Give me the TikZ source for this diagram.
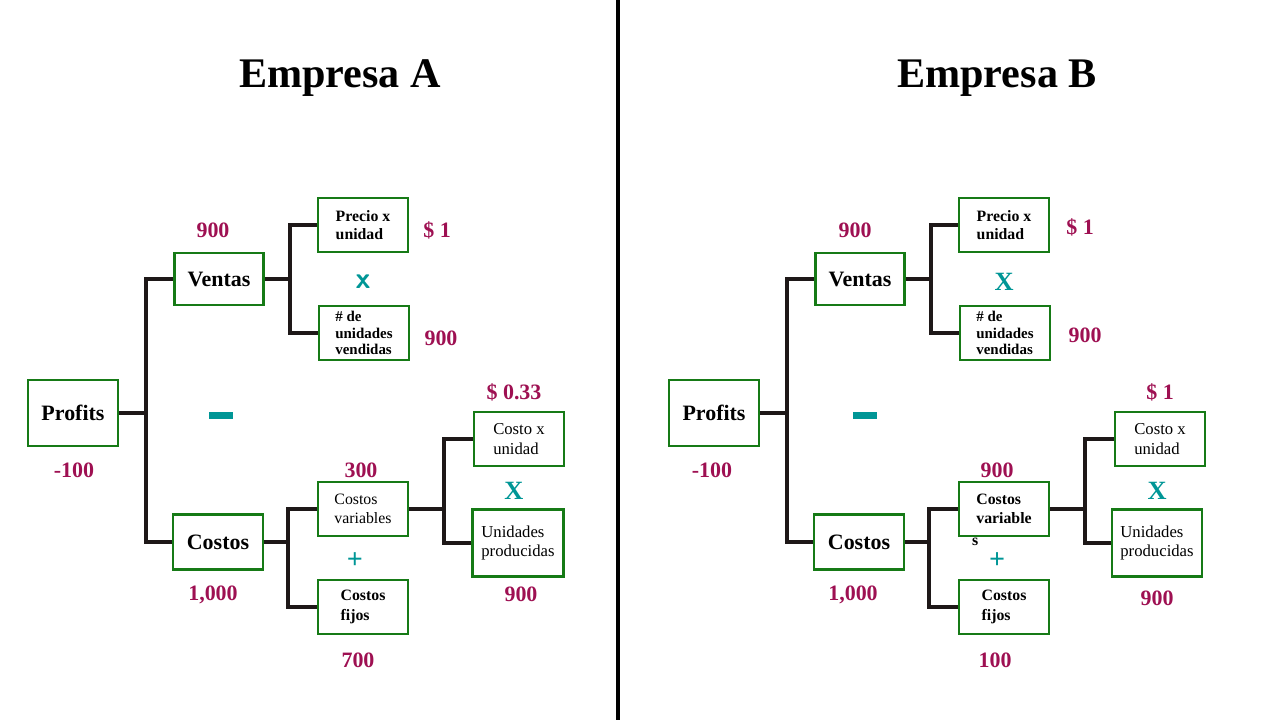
\documentclass[tikz,border=0pt]{standalone}
\usepackage{fontspec}
\setmainfont{Liberation Serif}
\usepackage{tikz}
\usetikzlibrary{positioning}
\definecolor{boxgreen}{RGB}{22,122,22}
\definecolor{numred}{RGB}{158,16,82}
\definecolor{opteal}{RGB}{0,150,150}
\definecolor{wireblack}{RGB}{30,24,24}

\begin{document}
\begin{tikzpicture}[x=0.02cm,y=-0.02cm,
    box/.style={draw=boxgreen,line width=1.6pt,fill=white,minimum width=1.8cm,minimum height=1.08cm,inner sep=1pt,align=left},
    bigbox/.style={box,font=\bfseries\fontsize{12.5}{14}\selectfont},
    smallbox/.style={box,font=\fontsize{9.5}{11}\selectfont},
    num/.style={text=numred,font=\bfseries\fontsize{12.5}{14}\selectfont},
    op/.style={text=opteal,font=\bfseries\fontsize{16}{18}\selectfont},
    minus/.style={fill=opteal,minimum width=0.48cm,minimum height=0.14cm,inner sep=0pt},
    wire/.style={line width=2.8pt,draw=wireblack},
    title/.style={font=\bfseries\fontsize{24}{28}\selectfont}]
    \useasboundingbox (0,0) rectangle (1280,720);
    \draw[line width=2.8pt] (618,0) -- (618,720);

    % Empresa A
    \node[title] (titleA) at (340,78) {Empresa A};
    \node[bigbox,minimum height=1.32cm] (profA) at (73,413) {Profits};
    \node[bigbox,minimum width=1.78cm,minimum height=1.04cm] (ventasA) at (219,279) {Ventas};
    \node[bigbox,minimum height=1.1cm] (costosA) at (218,542) {Costos};
    \node[smallbox,font=\bfseries\fontsize{9}{10.5}\selectfont] (precioA) at (363,225) {Precio x\\unidad};
    \node[smallbox,font=\bfseries\fontsize{8.5}{9.5}\selectfont] (vendA) at (364,333) {\# de\\unidades\\vendidas};
    \node[smallbox,font=\fontsize{9}{11}\selectfont] (varA) at (363,509) {Costos\\variables};
    \node[smallbox,font=\bfseries\fontsize{9}{11}\selectfont] (fijosA) at (363,607) {Costos\\fijos};
    \node[smallbox] (cunitA) at (519,439) {Costo x\\unidad};
    \node[smallbox,minimum width=1.82cm,minimum height=1.34cm] (prodA) at (518,543) {Unidades\\producidas};
    \coordinate (jA1) at (146,413);
    \coordinate (jA2) at (290,279);
    \coordinate (jA3) at (288,542);
    \coordinate (jA4) at (444,509);
    \draw[wire] (profA.east) -- (jA1);
    \draw[wire] (jA1) |- (ventasA.west);
    \draw[wire] (jA1) |- (costosA.west);
    \draw[wire] (ventasA.east) -- (jA2);
    \draw[wire] (jA2) |- (precioA.west);
    \draw[wire] (jA2) |- (vendA.west);
    \draw[wire] (costosA.east) -- (jA3);
    \draw[wire] (jA3) |- (varA.west);
    \draw[wire] (jA3) |- (fijosA.west);
    \draw[wire] (varA.east) -- (jA4);
    \draw[wire] (jA4) |- (cunitA.west);
    \draw[wire] (jA4) |- (prodA.west);
    \node[num] (nProfA) at (74,470) {-100};
    \node[num] (nVentasA) at (213,230) {900};
    \node[num] (nPrecioA) at (437,230) {\$ 1};
    \node[num] (nVendA) at (441,338) {900};
    \node[num] (nCostosA) at (213,595) {1,000};
    \node[num] (nVarA) at (361,470) {300};
    \node[num] (nFijosA) at (358,660) {700};
    \node[num] (nCunitA) at (514,392) {\$ 0.33};
    \node[num] (nProdA) at (521,594) {900};
    \node[minus] (minusA) at (221,415) {};
    \node[op,font=\sffamily\bfseries\fontsize{17}{18}\selectfont] (timesA1) at (363,282) {x};
    \node[op] (plusA) at (355,561) {+};
    \node[op,font=\bfseries\fontsize{15}{18}\selectfont] (timesA2) at (514,491) {X};

    % Empresa B
    \node[title] (titleB) at (997,78) {Empresa B};
    \node[bigbox,minimum height=1.32cm] (profB) at (714,413) {Profits};
    \node[bigbox,minimum width=1.78cm,minimum height=1.04cm] (ventasB) at (860,279) {Ventas};
    \node[bigbox,minimum height=1.1cm] (costosB) at (859,542) {Costos};
    \node[smallbox,font=\bfseries\fontsize{9}{10.5}\selectfont] (precioB) at (1004,225) {Precio x\\unidad};
    \node[smallbox,font=\bfseries\fontsize{8.5}{9.5}\selectfont] (vendB) at (1005,333) {\# de\\unidades\\vendidas};
    \node[smallbox,font=\bfseries\fontsize{9}{11}\selectfont,
      label={[anchor=north west,inner sep=0pt,font=\bfseries\fontsize{9}{11}\selectfont]south west:{\hspace{8pt}s}}] (varB) at (1004,509) {Costos\\variable};
    \node[smallbox,font=\bfseries\fontsize{9}{11}\selectfont] (fijosB) at (1004,607) {Costos\\fijos};
    \node[smallbox] (cunitB) at (1160,439) {Costo x\\unidad};
    \node[smallbox,minimum width=1.8cm,minimum height=1.34cm] (prodB) at (1157,543) {Unidades\\producidas};
    \coordinate (jB1) at (787,413);
    \coordinate (jB2) at (931,279);
    \coordinate (jB3) at (929,542);
    \coordinate (jB4) at (1085,509);
    \draw[wire] (profB.east) -- (jB1);
    \draw[wire] (jB1) |- (ventasB.west);
    \draw[wire] (jB1) |- (costosB.west);
    \draw[wire] (ventasB.east) -- (jB2);
    \draw[wire] (jB2) |- (precioB.west);
    \draw[wire] (jB2) |- (vendB.west);
    \draw[wire] (costosB.east) -- (jB3);
    \draw[wire] (jB3) |- (varB.west);
    \draw[wire] (jB3) |- (fijosB.west);
    \draw[wire] (varB.east) -- (jB4);
    \draw[wire] (jB4) |- (cunitB.west);
    \draw[wire] (jB4) |- (prodB.west);
    \node[num] (nProfB) at (712,470) {-100};
    \node[num] (nVentasB) at (855,230) {900};
    \node[num] (nPrecioB) at (1080,227) {\$ 1};
    \node[num] (nVendB) at (1085,335) {900};
    \node[num] (nCostosB) at (853,595) {1,000};
    \node[num] (nVarB) at (997,470) {900};
    \node[num] (nFijosB) at (995,660) {100};
    \node[num] (nCunitB) at (1160,392) {\$ 1};
    \node[num] (nProdB) at (1157,598) {900};
    \node[minus] (minusB) at (865,415) {};
    \node[op,font=\bfseries\fontsize{15}{18}\selectfont] (timesB1) at (1004,282) {X};
    \node[op] (plusB) at (997,561) {+};
    \node[op,font=\bfseries\fontsize{15}{18}\selectfont] (timesB2) at (1157,491) {X};
  \end{tikzpicture}
\end{document}
